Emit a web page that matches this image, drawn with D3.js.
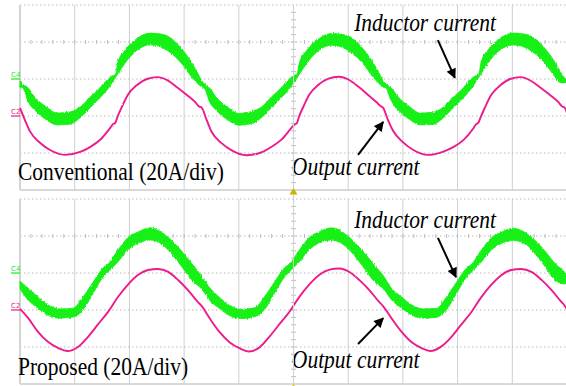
<!DOCTYPE html>
<html>
<head>
<meta charset="utf-8">
<script src="https://cdn.jsdelivr.net/npm/d3@7/dist/d3.min.js"></script>
<style>
  html, body { margin: 0; padding: 0; background: #fff; }
  svg { display: block; }
</style>
</head>
<body>
<svg id="chart" width="566" height="386"></svg>
<script>
// Scope traces, x in time divisions (0..10), y in vertical divisions (20 A/div).
// Conventional control: inductor current ripple band and output current.
const convGreenTime = [
  0, 0.05, 0.15, 0.27, 0.46, 0.68, 0.91, 1.10, 1.28, 1.46, 1.59, 1.68, 1.74, 1.79, 1.92, 2.10, 2.38, 2.65, 2.93, 3.11, 3.24,
  3.32, 3.37, 3.47, 3.59, 3.78, 4.00, 4.23, 4.42, 4.60, 4.78, 4.91, 5.00, 5.06, 5.11, 5.24, 5.42, 5.70, 5.97, 6.25, 6.43, 6.56,
  6.64, 6.69, 6.79, 6.91, 7.10, 7.32, 7.55, 7.74, 7.92, 8.10, 8.23, 8.32, 8.38, 8.43, 8.56, 8.74, 9.02, 9.29, 9.57, 9.75, 9.88,
  9.96, 10.0
];
const convGreenHigh = [
  -1.05, -1.14, -1.24, -1.49, -1.73, -1.92, -1.89, -1.76, -1.49, -1.24, -1.03, -0.92, -0.89, -0.54, -0.22, 0.05, 0.24, 0.19, -0.14, -0.49, -0.81,
  -1.04, -1.13, -1.25, -1.50, -1.74, -1.93, -1.88, -1.75, -1.48, -1.23, -1.02, -0.91, -0.88, -0.55, -0.23, 0.04, 0.23, 0.18, -0.15, -0.50, -0.82,
  -1.05, -1.14, -1.24, -1.48, -1.72, -1.92, -1.90, -1.76, -1.49, -1.25, -1.03, -0.92, -0.89, -0.54, -0.21, 0.06, 0.24, 0.19, -0.13, -0.48, -0.80,
  -0.98, -1.02
];
const convGreenLow = [
  -1.22, -1.24, -1.62, -1.84, -2.08, -2.24, -2.22, -2.05, -1.78, -1.51, -1.30, -1.11, -0.97, -0.86, -0.57, -0.27, -0.08, -0.19, -0.54, -0.89, -1.11,
  -1.21, -1.25, -1.63, -1.85, -2.09, -2.25, -2.21, -2.04, -1.77, -1.50, -1.29, -1.10, -0.98, -0.87, -0.58, -0.28, -0.09, -0.20, -0.55, -0.90, -1.12,
  -1.22, -1.24, -1.62, -1.83, -2.07, -2.24, -2.23, -2.05, -1.78, -1.52, -1.30, -1.11, -0.97, -0.86, -0.56, -0.26, -0.08, -0.19, -0.53, -0.88, -1.10,
  -1.11, -1.14
];
const convPinkTime = [
  0, 0.09, 0.18, 0.37, 0.55, 0.82, 1.10, 1.28, 1.46, 1.65, 1.70, 1.74, 1.78, 1.86, 1.97, 2.14, 2.32, 2.51, 2.69, 2.87, 3.05, 3.20, 3.27,
  3.32, 3.41, 3.50, 3.69, 3.87, 4.14, 4.42, 4.60, 4.78, 4.97, 5.02, 5.06, 5.10, 5.18, 5.29, 5.46, 5.64, 5.83, 6.01, 6.19, 6.37, 6.52, 6.59,
  6.64, 6.73, 6.82, 7.01, 7.19, 7.46, 7.74, 7.92, 8.10, 8.29, 8.34, 8.38, 8.42, 8.50, 8.61, 8.78, 8.96, 9.15, 9.33, 9.51, 9.69, 9.84, 9.91,
  9.96, 10.0
];
const convPink = [
  -1.78, -2.11, -2.41, -2.73, -2.92, -3.05, -2.97, -2.84, -2.65, -2.32, -2.22, -2.19, -2.03, -1.76, -1.43, -1.16, -1.00, -0.95, -1.03, -1.22, -1.43, -1.62, -1.74,
  -1.77, -2.10, -2.42, -2.74, -2.93, -3.06, -2.98, -2.83, -2.64, -2.31, -2.23, -2.20, -2.02, -1.75, -1.42, -1.15, -0.99, -0.94, -1.02, -1.21, -1.44, -1.63, -1.73,
  -1.78, -2.12, -2.40, -2.72, -2.92, -3.05, -2.96, -2.84, -2.66, -2.33, -2.22, -2.18, -2.04, -1.77, -1.44, -1.17, -1.00, -0.95, -1.04, -1.23, -1.43, -1.62, -1.74,
  -1.78, -1.92
];

// Proposed control.
const propGreenTime = [
  0, 0.15, 0.33, 0.51, 0.73, 0.97, 1.15, 1.34, 1.52, 1.61, 1.79, 1.97, 2.16, 2.38, 2.61, 2.89, 3.16,
  3.32, 3.47, 3.65, 3.83, 4.05, 4.29, 4.47, 4.66, 4.84, 4.93, 5.11, 5.29, 5.48, 5.70, 5.93, 6.21, 6.48,
  6.64, 6.79, 6.97, 7.15, 7.37, 7.61, 7.79, 7.98, 8.16, 8.25, 8.43, 8.61, 8.80, 9.02, 9.25, 9.53, 9.80,
  9.96, 10.0
];
const propGreenHigh = [
  -1.22, -1.41, -1.65, -1.86, -1.97, -1.95, -1.65, -1.24, -0.86, -0.76, -0.38, -0.05, 0.11, 0.22, 0.08, -0.30, -0.78,
  -1.08, -1.40, -1.66, -1.87, -1.98, -1.94, -1.64, -1.23, -0.85, -0.75, -0.37, -0.04, 0.12, 0.22, 0.07, -0.31, -0.79,
  -1.07, -1.41, -1.64, -1.85, -1.97, -1.96, -1.66, -1.25, -0.87, -0.77, -0.39, -0.06, 0.10, 0.21, 0.08, -0.29, -0.77,
  -0.98, -1.05
];
const propGreenLow = [
  -1.43, -1.73, -1.95, -2.14, -2.22, -2.19, -2.00, -1.54, -1.11, -0.97, -0.70, -0.38, -0.19, -0.11, -0.24, -0.70, -1.22,
  -1.43, -1.74, -1.96, -2.15, -2.23, -2.18, -1.99, -1.53, -1.10, -0.96, -0.69, -0.37, -0.18, -0.11, -0.25, -0.71, -1.23,
  -1.42, -1.72, -1.94, -2.13, -2.22, -2.20, -2.01, -1.55, -1.12, -0.98, -0.71, -0.39, -0.20, -0.12, -0.23, -0.69, -1.21,
  -1.30, -1.30
];
const propPinkTime = [
  0, 0.15, 0.33, 0.51, 0.70, 0.86, 1.06, 1.24, 1.43, 1.61, 1.79, 1.97, 2.16, 2.34, 2.52, 2.71, 2.89, 3.07, 3.25,
  3.32, 3.47, 3.65, 3.83, 4.02, 4.18, 4.38, 4.56, 4.75, 4.93, 5.11, 5.29, 5.48, 5.66, 5.84, 6.03, 6.21, 6.39, 6.57,
  6.64, 6.79, 6.97, 7.15, 7.34, 7.50, 7.70, 7.88, 8.07, 8.25, 8.43, 8.61, 8.80, 8.98, 9.16, 9.35, 9.53, 9.71, 9.89,
  9.96, 10.0
];
const propPink = [
  -1.97, -2.22, -2.59, -2.86, -3.03, -3.11, -3.00, -2.73, -2.38, -2.05, -1.65, -1.32, -1.05, -0.92, -0.89, -0.97, -1.19, -1.46, -1.78,
  -1.89, -2.23, -2.60, -2.87, -3.04, -3.12, -3.01, -2.72, -2.37, -2.04, -1.64, -1.31, -1.04, -0.91, -0.88, -0.98, -1.20, -1.47, -1.79,
  -1.90, -2.22, -2.58, -2.86, -3.03, -3.11, -2.99, -2.74, -2.39, -2.06, -1.66, -1.33, -1.06, -0.92, -0.89, -0.97, -1.18, -1.45, -1.77,
  -1.89, -1.98
];

// Channel offset markers (divisions) and their labels.
const channelNames = ["C4", "C2"];
const channelLevels = [-1, -2];

// Panel texts.
const panelTitles = ["Conventional (20A/div)", "Proposed (20A/div)"];
const traceNames = ["Inductor current", "Output current"];

const GREEN = "#14f014";
const PINK = "#ec1a8c";
const GRID = "#cfcfcf";

const svg = d3.select("#chart");
svg.append("rect").attr("width", 566).attr("height", 386).attr("fill", "#fff");

const x = d3.scaleLinear().domain([0, 10]).range([20, 567]);

const panels = [
  {
    y: d3.scaleLinear().domain([-4, 1]).range([190, 5]),
    gT: convGreenTime, gH: convGreenHigh, gL: convGreenLow,
    pT: convPinkTime, pV: convPink,
    title: panelTitles[0],
    textIndY: 0.30, textOutY: -3.59, titleY: -3.73,
    arrowInd: [[7.64, 0.05], [7.95, -0.97]],
    arrowOut: [[6.18, -3.05], [6.64, -2.16]]
  },
  {
    y: d3.scaleLinear().domain([-4, 1]).range([384, 199]),
    gT: propGreenTime, gH: propGreenHigh, gL: propGreenLow,
    pT: propPinkTime, pV: propPink,
    title: panelTitles[1],
    textIndY: 0.22, textOutY: -3.57, titleY: -3.76,
    arrowInd: [[7.64, -0.05], [7.97, -1.11]],
    arrowOut: [[6.18, -2.92], [6.64, -2.22]]
  }
];

const defs = svg.append("defs");
// arrow head marker
defs.append("marker")
  .attr("id", "head")
  .attr("viewBox", "0 0 10 10")
  .attr("refX", 9).attr("refY", 5)
  .attr("markerWidth", 5.5).attr("markerHeight", 5)
  .attr("markerUnits", "strokeWidth")
  .attr("orient", "auto")
  .append("path").attr("d", "M0,0 L10,5 L0,10 Z").attr("fill", "#000");

// switching-ripple fuzz on the trace edges
const fuzz = defs.append("filter").attr("id", "fuzz")
  .attr("x", "-2%").attr("y", "-10%").attr("width", "104%").attr("height", "120%");
fuzz.append("feTurbulence").attr("type", "fractalNoise")
  .attr("baseFrequency", "1.2 0.35").attr("numOctaves", 1).attr("seed", 3).attr("result", "n");
fuzz.append("feDisplacementMap").attr("in", "SourceGraphic").attr("in2", "n")
  .attr("scale", 3).attr("xChannelSelector", "R").attr("yChannelSelector", "G");

const fuzzThin = defs.append("filter").attr("id", "fuzzThin")
  .attr("x", "-2%").attr("y", "-10%").attr("width", "104%").attr("height", "120%");
fuzzThin.append("feTurbulence").attr("type", "fractalNoise")
  .attr("baseFrequency", "0.9 0.5").attr("numOctaves", 1).attr("seed", 7).attr("result", "n");
fuzzThin.append("feDisplacementMap").attr("in", "SourceGraphic").attr("in2", "n")
  .attr("scale", 1.6).attr("xChannelSelector", "R").attr("yChannelSelector", "G");

panels.forEach(p => {
  const g = svg.append("g");
  const y = p.y;
  const [v0, v1] = y.domain();

  // vertical grid (solid light grey)
  g.selectAll(null).data(d3.range(1, 11)).join("line")
    .attr("x1", d => x(d)).attr("x2", d => x(d))
    .attr("y1", y(v1)).attr("y2", y(v0))
    .attr("stroke", GRID).attr("stroke-width", 1);

  // horizontal grid (dotted)
  g.selectAll(null).data(d3.range(v0 + 1, v1 + 1)).join("line")
    .attr("x1", x(0)).attr("x2", 566)
    .attr("y1", d => y(d)).attr("y2", d => y(d))
    .attr("stroke", "#bdbdbd").attr("stroke-width", 1)
    .attr("stroke-dasharray", "1.5,2.5");

  // screen bottom edge
  g.append("line")
    .attr("x1", x(0)).attr("x2", 566)
    .attr("y1", y(v0)).attr("y2", y(v0))
    .attr("stroke", "#cdcdcd").attr("stroke-width", 1.5);

  // left edge
  g.append("line")
    .attr("x1", x(0)).attr("x2", x(0))
    .attr("y1", y(v1)).attr("y2", y(v0))
    .attr("stroke", "#d4d4d4").attr("stroke-width", 2);

  // minor ticks on centre axes
  g.selectAll(null).data(d3.range(0.2, 10, 0.2)).join("line")
    .attr("x1", d => x(d)).attr("x2", d => x(d))
    .attr("y1", y(0) - 2).attr("y2", y(0) + 2)
    .attr("stroke", "#bdbdbd").attr("stroke-width", 1);
  g.selectAll(null).data(d3.range(v0 + 0.2, v1, 0.2)).join("line")
    .attr("x1", x(5) - 2.5).attr("x2", x(5) + 2.5)
    .attr("y1", d => y(d)).attr("y2", d => y(d))
    .attr("stroke", "#bdbdbd").attr("stroke-width", 1);

  // channel offset markers
  channelLevels.forEach((lv, i) => {
    const col = i === 0 ? GREEN : PINK;
    g.append("line")
      .attr("x1", 11).attr("x2", x(0))
      .attr("y1", y(lv)).attr("y2", y(lv))
      .attr("stroke", col).attr("stroke-width", 1.2);
    g.append("text")
      .attr("x", 11).attr("y", y(lv) - 2.5)
      .attr("font-family", "DejaVu Sans, sans-serif")
      .attr("font-size", 7).attr("fill", col)
      .text(channelNames[i]);
  });

  // inductor current ripple band
  const band = d3.area()
    .x((d, i) => x(p.gT[i]))
    .y0((d, i) => y(p.gL[i]))
    .y1((d, i) => y(p.gH[i]))
    .curve(d3.curveMonotoneX);
  g.append("path").datum(p.gT).attr("d", band)
    .attr("fill", GREEN).attr("stroke", GREEN).attr("stroke-width", 0.8)
    .attr("filter", "url(#fuzz)");

  // output current
  const line = d3.line()
    .x((d, i) => x(p.pT[i]))
    .y((d, i) => y(p.pV[i]))
    .curve(d3.curveMonotoneX);
  g.append("path").datum(p.pT).attr("d", line)
    .attr("fill", "none").attr("stroke", PINK).attr("stroke-width", 1.9)
    .attr("filter", "url(#fuzzThin)");

  // annotations (text slightly taller than wide, as in the figure)
  const serif = "Liberation Serif, Times New Roman, serif";
  const addText = (tx, ty, str, italic) => {
    g.append("text")
      .attr("transform", `translate(${tx},${ty}) scale(1,1.14)`)
      .attr("font-family", serif)
      .attr("font-style", italic ? "italic" : "normal")
      .attr("font-size", 21.5).attr("fill", "#000").text(str);
  };
  addText(x(6.11), y(p.textIndY), traceNames[0], true);
  addText(x(4.97), y(p.textOutY), traceNames[1], true);
  addText(18, y(p.titleY), p.title, false);

  [p.arrowInd, p.arrowOut].forEach(a => {
    g.append("line")
      .attr("x1", x(a[0][0])).attr("y1", y(a[0][1]))
      .attr("x2", x(a[1][0])).attr("y2", y(a[1][1]))
      .attr("stroke", "#000").attr("stroke-width", 2)
      .attr("marker-end", "url(#head)");
  });
});

// centre vertical axis, running through both screens
svg.append("line")
  .attr("x1", x(5)).attr("x2", x(5)).attr("y1", 5).attr("y2", 386)
  .attr("stroke", GRID).attr("stroke-width", 1);

// trigger position markers
svg.append("path")
  .attr("d", `M${x(5)},188 l4,6.5 l-8,0 Z`)
  .attr("fill", "#c9b400");
svg.append("rect").attr("x", x(5) - 1).attr("y", 384.5).attr("width", 2).attr("height", 1.5)
  .attr("fill", "#e0c800");
</script>
</body>
</html>
